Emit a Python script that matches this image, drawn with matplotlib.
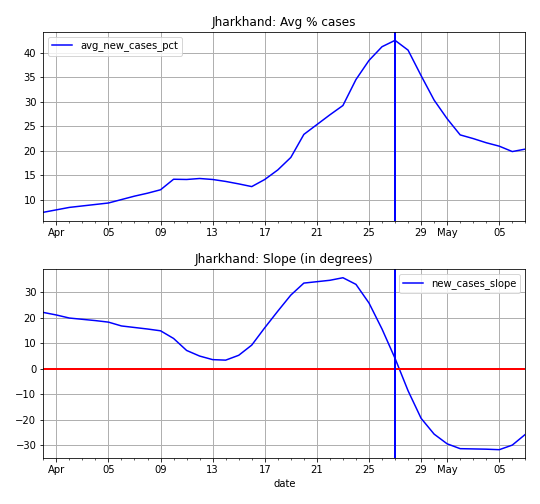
import matplotlib
matplotlib.use('Agg')
import matplotlib.pyplot as plt
import matplotlib.dates as mdates
import pandas as pd

# daily values, 31 Mar .. 7 May
dates = pd.date_range('2020-03-31', '2020-05-07', freq='D')

avg_new_cases_pct = [
    7.4, 7.9, 8.4, 8.7, 9.0, 9.3, 10.0, 10.7, 11.3, 12.0,
    14.15, 14.1, 14.3, 14.1, 13.7, 13.2, 12.65, 14.1, 16.05, 18.6,
    23.3, 25.3, 27.3, 29.2, 34.5, 38.4, 41.2, 42.5, 40.5, 35.3,
    30.3, 26.5, 23.2, 22.45, 21.6, 20.9, 19.8, 20.3,
]

new_cases_slope = [
    22.0, 21.0, 19.8, 19.3, 18.8, 18.2, 16.7, 16.1, 15.5, 14.8,
    11.8, 7.1, 4.9, 3.5, 3.3, 5.2, 9.2, 16.0, 22.5, 28.8,
    33.5, 34.05, 34.6, 35.6, 33.0, 25.7, 15.5, 4.0, -8.7, -19.5,
    -25.7, -29.5, -31.4, -31.5, -31.6, -31.8, -30.0, -25.8,
]

peak_date = pd.Timestamp('2020-04-27')
state = 'Jharkhand'


def date_label(x, pos=None):
    d = mdates.num2date(x)
    return d.strftime('%b') if d.day == 1 else d.strftime('%d')


fig, (ax1, ax2) = plt.subplots(2, 1, figsize=(7.5, 7), dpi=72)
fig.subplots_adjust(left=0.0802, right=0.9728, top=0.937, bottom=0.0907, hspace=0.255)

ax1.plot(dates, avg_new_cases_pct, color='blue', linewidth=1.5, label='avg_new_cases_pct')
ax1.axvline(peak_date, color='blue', linewidth=2)
ax1.set_title(f'{state}: Avg % cases', fontsize=12)
ax1.legend(loc='upper left', fontsize=10)

ax2.plot(dates, new_cases_slope, color='blue', linewidth=1.5, label='new_cases_slope')
ax2.axhline(0, color='red', linewidth=2)
ax2.axvline(peak_date, color='blue', linewidth=2)
ax2.set_title(f'{state}: Slope (in degrees)', fontsize=12)
ax2.set_xlabel('date', fontsize=10)
ax2.legend(loc='upper right', fontsize=10)

for ax in [ax1, ax2]:
    ax.set_xlim(dates[0], dates[-1])
    ax.xaxis.set_major_locator(mdates.DayLocator(bymonthday=[1, 5, 9, 13, 17, 21, 25, 29]))
    ax.xaxis.set_major_formatter(plt.FuncFormatter(date_label))
    ax.xaxis.set_minor_locator(mdates.DayLocator())
    ax.tick_params(labelsize=10)
    ax.grid(True, color='#b0b0b0', linewidth=1)

plt.savefig('out.png', dpi=72)
plt.close()
